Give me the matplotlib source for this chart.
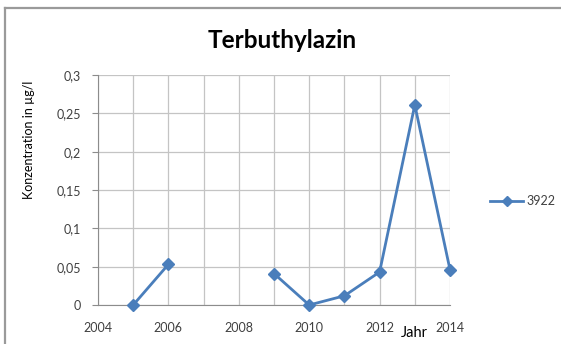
import numpy as np
import matplotlib.pyplot as plt
from matplotlib.lines import Line2D
from matplotlib.ticker import FuncFormatter

# Terbuthylazin Messwerte, Messstelle 3922
jahre = [2005, 2006, 2007, 2008, 2009, 2010, 2011, 2012, 2013, 2014]
werte = [0.0, 0.053, np.nan, np.nan, 0.041, 0.0, 0.012, 0.043, 0.261, 0.046]
serie = "3922"
titel = "Terbuthylazin"
y_ticks = [0, 0.05, 0.1, 0.15, 0.2, 0.25, 0.3]
x_ticks = [2004, 2006, 2008, 2010, 2012, 2014]

plt.rcParams["font.family"] = ["Lato", "DejaVu Sans"]
blau = "#4A7EBB"
grau = "#8C8C8C"

W, H = 561, 344
fig = plt.figure(figsize=(W / 100, H / 100), dpi=100)

# Rahmen oben und links
fig.add_artist(Line2D([5 / W, 1.0], [1 - 8 / H, 1 - 8 / H], transform=fig.transFigure,
                      color="#9A9A9A", linewidth=1.6))
fig.add_artist(Line2D([5 / W, 5 / W], [0.0, 1 - 8 / H], transform=fig.transFigure,
                      color="#9A9A9A", linewidth=1.6))

ax = fig.add_axes([98 / W, 1 - 305 / H, (450 - 98) / W, (305 - 75) / H])
ax.plot(jahre, werte, color=blau, linewidth=2.0, marker="D", markersize=6.5,
        markerfacecolor=blau, markeredgecolor=blau, label=serie, clip_on=False, zorder=3)

ax.set_xlim(2004, 2014)
ax.set_ylim(0, 0.3)
ax.set_xticks(x_ticks)
ax.set_xticks(range(2004, 2015), minor=True)
ax.set_yticks(y_ticks)
ax.yaxis.set_major_formatter(FuncFormatter(lambda v, p: ("%g" % v).replace(".", ",")))
ax.grid(True, which="both", color="#C4C4C4", linewidth=0.9)
ax.set_axisbelow(True)
for s in ax.spines.values():
    s.set_visible(False)
ax.spines["left"].set_visible(True)
ax.spines["bottom"].set_visible(True)
ax.spines["left"].set_color(grau)
ax.spines["bottom"].set_color(grau)
ax.tick_params(axis="y", which="major", length=4, color=grau, labelsize=9,
               labelcolor="#404040", pad=8)
ax.tick_params(axis="x", which="both", length=0, labelsize=9,
               labelcolor="#404040", pad=12)

fig.text(282 / W, 1 - 40 / H, titel, ha="center", va="center",
         fontsize=17.5, fontweight="bold", color="#000000")
fig.text(29 / W, 1 - 140 / H, "Konzentration in µg/l", rotation=90,
         ha="center", va="center", fontsize=9, color="#000000")
fig.text(414 / W, 1 - 333 / H, "Jahr", ha="center", va="center",
         fontsize=10.5, color="#000000")

ax.legend(loc="center left", bbox_to_anchor=(484 / W, 1 - 201 / H),
          bbox_transform=fig.transFigure, frameon=False, fontsize=9,
          handlelength=2.6, handletextpad=0.3, borderpad=0, markerscale=0.75,
          labelcolor="#404040")

fig.savefig("out.png", dpi=100)
